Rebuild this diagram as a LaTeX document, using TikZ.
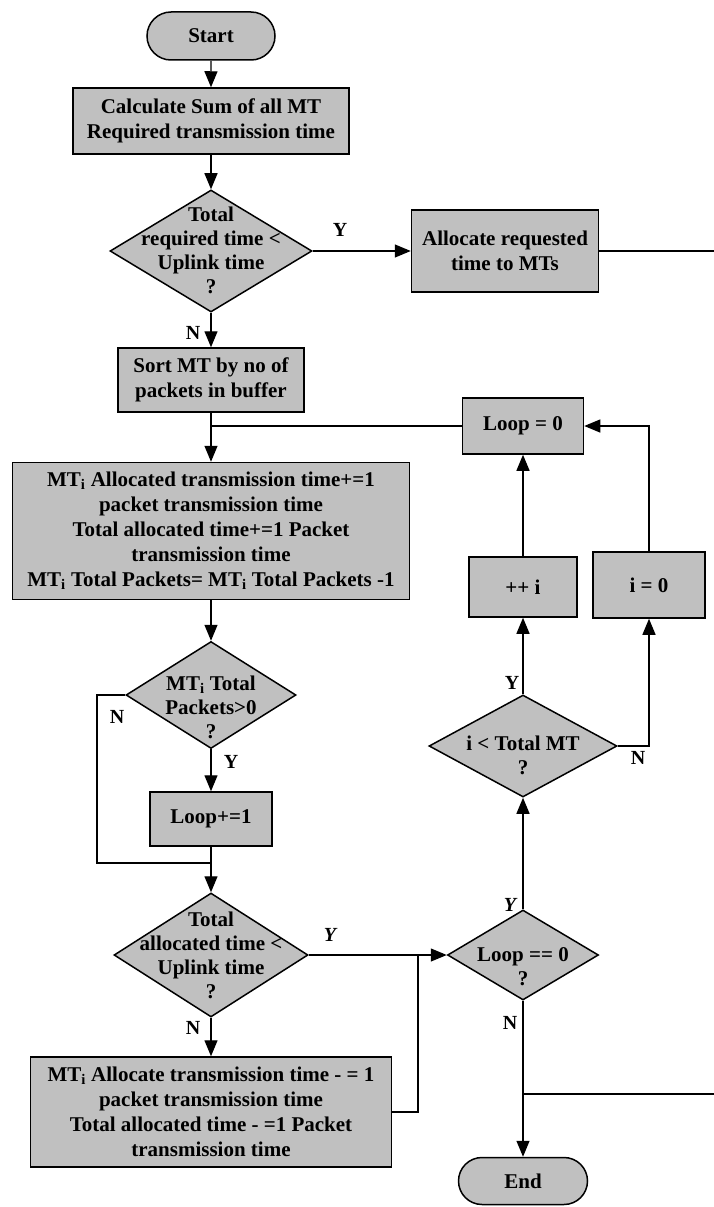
\documentclass[tikz,border=0pt]{standalone}
\usepackage{fontspec}
\setmainfont{Liberation Serif}
\usetikzlibrary{shapes.geometric,shapes.misc,arrows.meta}
\definecolor{boxgray}{RGB}{192,192,192}
\begin{document}
\begin{tikzpicture}[x=1pt,y=-1pt,
  every node/.style={font=\bfseries\fontsize{21}{25}\selectfont, align=center},
  proc/.style={rectangle, draw, line width=1.5pt, fill=boxgray, inner sep=0pt},
  term/.style={rounded rectangle, draw, line width=1.5pt, fill=boxgray, inner sep=0pt},
  dec/.style={diamond, draw, line width=1.5pt, fill=boxgray, inner sep=0pt},
  dtext/.style 2 args={label={[align=center,yshift=#2,font=\bfseries\fontsize{21}{24}\selectfont]center:{#1}}},
  flow/.style={line width=1.3pt, -{Triangle[length=16pt,width=13pt]}},
  link/.style={line width=1.3pt},
  tag/.style={font=\bfseries\fontsize{20}{24}\selectfont}
]
\useasboundingbox[fill=white] (0,0) rectangle (714,1207);

% left column
\node[term, minimum width=128, minimum height=48] (start) at (211,36) {Start};
\node[proc, minimum width=276, minimum height=66] (calc) at (211,121)
  {Calculate Sum of all MT\\Required transmission time};
\node[dec, minimum width=202, minimum height=122,
  dtext={Total\\required time <\\Uplink time\\?}{1pt}] (d1) at (211,251) {};
\node[proc, minimum width=187, minimum height=82] (alloc) at (505,251)
  {Allocate requested\\time to MTs};
\node[proc, minimum width=186, minimum height=64] (sort) at (211,380)
  {Sort MT by no of\\packets in buffer};
\node[proc, minimum width=397, minimum height=137] (big) at (211,531)
  {MT\textsubscript{i} Allocated transmission time+=1\\packet transmission time\\Total allocated time+=1 Packet\\transmission time\\MT\textsubscript{i} Total Packets= MT\textsubscript{i} Total Packets -1};
\node[dec, minimum width=170, minimum height=107,
  dtext={MT\textsubscript{i} Total\\Packets>0\\?}{-12pt}] (d2) at (211,695) {};
\node[proc, minimum width=122, minimum height=54] (linc) at (211,819) {Loop+=1};
\node[dec, minimum width=194, minimum height=124,
  dtext={Total\\allocated time <\\Uplink time\\?}{0pt}] (d3) at (211,955) {};
\node[proc, minimum width=361, minimum height=110] (last) at (211,1112)
  {MT\textsubscript{i} Allocate transmission time - = 1\\packet transmission time\\Total allocated time - =1 Packet\\transmission time};

% right column
\node[proc, minimum width=121, minimum height=56] (loop0) at (523,426) {Loop = 0};
\node[proc, minimum width=108, minimum height=60] (inc) at (523,587) {++ i};
\node[proc, minimum width=112, minimum height=66] (izero) at (649,585) {i = 0};
\node[dec, minimum width=188, minimum height=102,
  dtext={i < Total MT\\?}{-9pt}] (d4) at (523,746) {};
\node[dec, minimum width=151, minimum height=90,
  dtext={Loop == 0\\?}{-12pt}] (d5) at (523,955) {};
\node[term, minimum width=129, minimum height=47] (end) at (523,1181) {End};

% junctions and free ends
\coordinate (j1) at (211,426);
\coordinate (j2) at (211,863);
\coordinate (b1) at (97,695);
\coordinate (b2) at (97,863);
\coordinate (j3) at (418,955);
\coordinate (l1) at (418,1112);
\coordinate (n1) at (649,746);
\coordinate (n2) at (649,426);
\coordinate (j4) at (523,1094);
\coordinate (rA) at (714,251);
\coordinate (rB) at (714,1094);

% connectors
\draw[flow] (start) -- (calc);
\draw[flow] (calc) -- (d1);
\draw[flow] (d1.east) -- (alloc.west);
\draw[link] (alloc.east) -- (rA);
\draw[flow] (d1.south) -- (sort.north);
\draw[flow] (sort.south) -- (big.north);
\draw[link] (loop0.west) -- (j1);
\draw[flow] (big.south) -- (d2.north);
\draw[flow] (d2.south) -- (linc.north);
\draw[link] (d2.west) -- (b1) -- (b2) -- (j2);
\draw[flow] (linc.south) -- (d3.north);
\draw[flow] (d3.east) -- (d5.west);
\draw[flow] (d3.south) -- (last.north);
\draw[link] (last.east) -- (l1) -- (j3);
\draw[flow] (d5.north) -- (d4.south);
\draw[flow] (d4.north) -- (inc.south);
\draw[flow] (inc.north) -- (loop0.south);
\draw[flow] (d4.east) -- (n1) -- (izero.south);
\draw[flow] (izero.north) -- (n2) -- (loop0.east);
\draw[flow] (d5.south) -- (end.north);
\draw[link] (j4) -- (rB);

% branch labels
\node[tag] (y1) at (340,230) {Y};
\node[tag] (nn1) at (193,333) {N};
\node[tag] (nn2) at (117,717) {N};
\node[tag] (y2) at (231,762) {Y};
\node[tag] (y3) at (330,935) {\itshape Y};
\node[tag] (nn3) at (193,1028) {N};
\node[tag] (y4) at (510,905) {\itshape Y};
\node[tag] (nn4) at (510,1023) {N};
\node[tag] (y5) at (512,683) {Y};
\node[tag] (nn5) at (638,758) {N};
\end{tikzpicture}
\end{document}
